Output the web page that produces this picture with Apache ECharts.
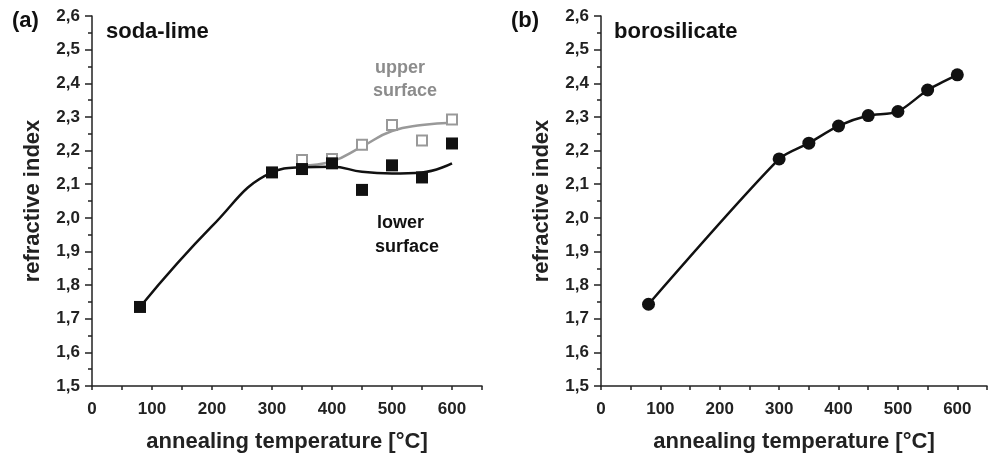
<!DOCTYPE html>
<html><head><meta charset="utf-8">
<script src="https://cdn.jsdelivr.net/npm/echarts@6/dist/echarts.min.js"></script>
<style>html,body{margin:0;padding:0;background:#fff}#c{width:990px;height:458px}</style>
</head><body><div id="c"></div>
<script>
// ---- data ----
var sodaLowerT = [80, 300, 350, 400, 450, 500, 550, 600];
var sodaLowerN = [1.735, 2.135, 2.145, 2.162, 2.083, 2.156, 2.12, 2.221];
var sodaUpperT = [350, 400, 450, 500, 550, 600];
var sodaUpperN = [2.172, 2.175, 2.217, 2.276, 2.23, 2.292];
// fitted guide curves
var lowerFitT = [80, 200, 300, 350, 400, 450, 500, 550, 600];
var lowerFitN = [1.735, 1.975, 2.135, 2.15, 2.152, 2.137, 2.132, 2.135, 2.162];
var upperFitT = [350, 400, 450, 500, 550, 600];
var upperFitN = [2.155, 2.168, 2.212, 2.258, 2.276, 2.283];
var boroT = [80, 300, 350, 400, 450, 500, 550, 600];
var boroN = [1.743, 2.175, 2.222, 2.273, 2.304, 2.316, 2.38, 2.425];
var xTicks = [0, 100, 200, 300, 400, 500, 600];
var yTicks = [1.5, 1.6, 1.7, 1.8, 1.9, 2.0, 2.1, 2.2, 2.3, 2.4, 2.5, 2.6];

function pairs(a, b) { return a.map(function (v, i) { return [v, b[i]]; }); }
var FONT = '"Liberation Sans", Arial, sans-serif';

function xAxis(gi) {
  return {
    type: 'value', gridIndex: gi, min: 0, max: 650, interval: 50,
    name: 'annealing temperature [°C]', nameLocation: 'middle', nameGap: 45,
    nameTextStyle: { fontFamily: FONT, fontWeight: 'bold', fontSize: 22, color: '#222' },
    axisLine: { lineStyle: { color: '#222', width: 1.5 } },
    axisTick: { length: 4, lineStyle: { color: '#222', width: 1.5 } },
    splitLine: { show: false },
    axisLabel: {
      margin: 15, fontFamily: FONT, fontWeight: 'bold', fontSize: 17, color: '#222',
      formatter: function (v) { return xTicks.indexOf(v) >= 0 ? String(v) : ''; }
    }
  };
}
function yAxis(gi) {
  return {
    type: 'value', gridIndex: gi, min: yTicks[0], max: yTicks[yTicks.length - 1], interval: 0.1,
    name: 'refractive index', nameLocation: 'middle', nameGap: 48,
    nameTextStyle: { fontFamily: FONT, fontWeight: 'bold', fontSize: 22, color: '#222' },
    axisLine: { show: true, lineStyle: { color: '#222', width: 1.5 } },
    axisTick: { show: true, length: 7, lineStyle: { color: '#222', width: 1.5 } },
    minorTick: { show: true, splitNumber: 2, length: 4, lineStyle: { color: '#222', width: 1.5 } },
    splitLine: { show: false },
    axisLabel: {
      margin: 12, fontFamily: FONT, fontWeight: 'bold', fontSize: 17, color: '#222',
      formatter: function (v) { return v.toFixed(1).replace('.', ','); }
    }
  };
}

var chart = echarts.init(document.getElementById('c'), null, { renderer: 'canvas' });
chart.setOption({
  backgroundColor: '#fff',
  animation: false,
  grid: [
    { left: 92, top: 16, width: 390, height: 376 },
    { left: 601, top: 16, width: 388, height: 376 }
  ],
  xAxis: [xAxis(0), xAxis(1)],
  yAxis: [yAxis(0), yAxis(1)],
  graphic: [
    { type: 'text', left: 12, top: 10, style: { text: '(a)', font: 'bold 22px ' + FONT, fill: '#111' } },
    { type: 'text', left: 106, top: 21, style: { text: 'soda-lime', font: 'bold 22px ' + FONT, fill: '#111' } },
    { type: 'text', left: 375, top: 59, style: { text: 'upper', font: 'bold 18px ' + FONT, fill: '#8c8c8c' } },
    { type: 'text', left: 373, top: 82, style: { text: 'surface', font: 'bold 18px ' + FONT, fill: '#8c8c8c' } },
    { type: 'text', left: 377, top: 214, style: { text: 'lower', font: 'bold 18px ' + FONT, fill: '#111' } },
    { type: 'text', left: 375, top: 238, style: { text: 'surface', font: 'bold 18px ' + FONT, fill: '#111' } },
    { type: 'text', left: 511, top: 10, style: { text: '(b)', font: 'bold 22px ' + FONT, fill: '#111' } },
    { type: 'text', left: 614, top: 21, style: { text: 'borosilicate', font: 'bold 22px ' + FONT, fill: '#111' } }
  ],
  series: [
    { type: 'line', xAxisIndex: 0, yAxisIndex: 0, data: pairs(upperFitT, upperFitN), smooth: 0.5, showSymbol: false, lineStyle: { color: '#999', width: 2.5 }, z: 2 },
    { type: 'line', xAxisIndex: 0, yAxisIndex: 0, data: pairs(lowerFitT, lowerFitN), smooth: 0.45, showSymbol: false, lineStyle: { color: '#111', width: 2.5 }, z: 3 },
    { type: 'scatter', xAxisIndex: 0, yAxisIndex: 0, data: pairs(sodaUpperT, sodaUpperN), symbol: 'rect', symbolSize: 10, itemStyle: { color: '#fff', borderColor: '#999', borderWidth: 2, opacity: 1 }, z: 4 },
    { type: 'scatter', xAxisIndex: 0, yAxisIndex: 0, data: pairs(sodaLowerT, sodaLowerN), symbol: 'rect', symbolSize: 12, itemStyle: { color: '#111', opacity: 1 }, z: 5 },
    { type: 'line', xAxisIndex: 1, yAxisIndex: 1, data: pairs(boroT, boroN), smooth: 0.25, symbol: 'circle', symbolSize: 13, lineStyle: { color: '#111', width: 2.5 }, itemStyle: { color: '#111' }, z: 3 }
  ]
});
</script></body></html>
